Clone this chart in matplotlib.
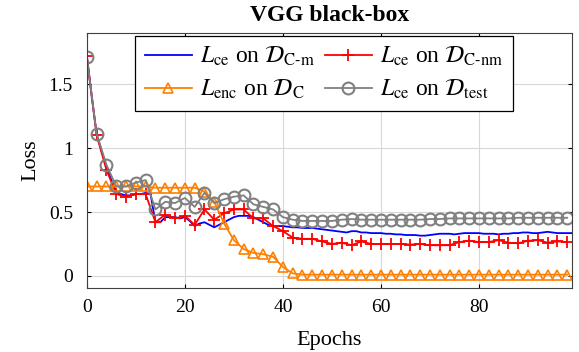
import matplotlib.pyplot as plt

plt.rcParams['font.family'] = ['Liberation Serif', 'DejaVu Serif']
plt.rcParams['mathtext.fontset'] = 'stix'

# every epoch for the C-m curve, every second epoch for the others
epochs_all = list(range(100))
epochs_even = list(range(0, 100, 2))

loss_cm = [1.72, 1.40, 1.11, 0.98, 0.85, 0.75, 0.66, 0.64, 0.63, 0.63,
           0.64, 0.64, 0.65, 0.64, 0.42, 0.42, 0.46, 0.46, 0.46, 0.45,
           0.46, 0.43, 0.39, 0.41, 0.42, 0.40, 0.38, 0.40, 0.42, 0.44,
           0.46, 0.47, 0.47, 0.47, 0.46, 0.44, 0.42, 0.40, 0.39, 0.39,
           0.39, 0.385, 0.38, 0.38, 0.375, 0.375, 0.375, 0.37, 0.365, 0.36,
           0.355, 0.35, 0.345, 0.34, 0.35, 0.35, 0.34, 0.34, 0.335, 0.335,
           0.335, 0.33, 0.33, 0.325, 0.325, 0.32, 0.32, 0.32, 0.315, 0.315,
           0.32, 0.325, 0.33, 0.33, 0.33, 0.325, 0.33, 0.335, 0.335, 0.335,
           0.335, 0.33, 0.33, 0.33, 0.325, 0.33, 0.33, 0.335, 0.335, 0.34,
           0.34, 0.335, 0.335, 0.34, 0.345, 0.34, 0.335, 0.335, 0.335, 0.335]

loss_cnm = [1.72, 1.10, 0.83, 0.64, 0.62, 0.64, 0.64, 0.42, 0.48, 0.45,
            0.47, 0.40, 0.52, 0.44, 0.49, 0.52, 0.52, 0.45, 0.45, 0.39,
            0.35, 0.30, 0.29, 0.29, 0.27, 0.25, 0.26, 0.24, 0.27, 0.25,
            0.25, 0.25, 0.25, 0.245, 0.25, 0.24, 0.24, 0.24, 0.265, 0.275,
            0.265, 0.265, 0.28, 0.26, 0.255, 0.275, 0.28, 0.26, 0.27, 0.265]

loss_enc = [0.70, 0.70, 0.70, 0.70, 0.70, 0.70, 0.70, 0.69, 0.69, 0.69,
            0.69, 0.69, 0.66, 0.58, 0.41, 0.28, 0.21, 0.18, 0.17, 0.15,
            0.07, 0.02, 0.01, 0.01, 0.01, 0.01, 0.01, 0.01, 0.01, 0.01,
            0.01, 0.01, 0.01, 0.01, 0.01, 0.01, 0.01, 0.01, 0.01, 0.01,
            0.01, 0.01, 0.01, 0.01, 0.01, 0.01, 0.01, 0.01, 0.01, 0.01]

loss_test = [1.71, 1.11, 0.87, 0.70, 0.70, 0.73, 0.75, 0.52, 0.58, 0.57,
             0.61, 0.54, 0.65, 0.57, 0.60, 0.62, 0.63, 0.56, 0.54, 0.52,
             0.46, 0.44, 0.43, 0.43, 0.43, 0.43, 0.44, 0.445, 0.44, 0.44,
             0.44, 0.44, 0.44, 0.44, 0.44, 0.445, 0.445, 0.45, 0.45, 0.45,
             0.45, 0.45, 0.45, 0.45, 0.455, 0.455, 0.455, 0.455, 0.455, 0.455]

fig = plt.figure(figsize=(5.79, 3.52), dpi=100)
ax = fig.add_axes([0.150, 0.182, 0.838, 0.724])

h1, = ax.plot(epochs_all, loss_cm, color='#0000ff', lw=1.3,
              label=r'$L_{\mathrm{ce}}$ on $\mathcal{D}_{\text{C-m}}$')
h2, = ax.plot(epochs_even, loss_cnm, color='#ff0000', lw=1.3, marker='+',
              ms=8, mew=1.3,
              label=r'$L_{\mathrm{ce}}$ on $\mathcal{D}_{\text{C-nm}}$')
h3, = ax.plot(epochs_even, loss_enc, color='#ff8000', lw=1.3, marker='^',
              ms=7, mew=1.2, mfc='none',
              label=r'$L_{\mathrm{enc}}$ on $\mathcal{D}_{\mathrm{C}}$')
h4, = ax.plot(epochs_even, loss_test, color='#808080', lw=1.3, marker='o',
              ms=8.5, mew=1.5, mfc='none',
              label=r'$L_{\mathrm{ce}}$ on $\mathcal{D}_{\mathrm{test}}$')

ax.set_xlim(0, 99)
ax.set_ylim(-0.094, 1.90)
ax.set_xticks([0, 20, 40, 60, 80])
ax.set_yticks([0, 0.5, 1, 1.5])
ax.set_yticklabels(['0', '0.5', '1', '1.5'])
ax.grid(True, color='#d8d8d8', lw=0.8)
ax.set_axisbelow(True)
ax.tick_params(direction='in', length=3, labelsize=14, top=True, right=True)
ax.tick_params(axis='x', pad=8)
ax.tick_params(axis='y', pad=10)
for s in ax.spines.values():
    s.set_color('#404040')

ax.set_xlabel('Epochs', fontsize=16, labelpad=11)
ax.set_ylabel('Loss', fontsize=16, labelpad=6)
ax.set_title('VGG black-box', fontsize=17, fontweight='bold', pad=9)

leg = ax.legend(handles=[h1, h3, h2, h4], ncol=2, loc='upper center',
                bbox_to_anchor=(0.489, 0.99), fontsize=17, frameon=True,
                fancybox=False, framealpha=1, edgecolor='black',
                borderpad=0.4, borderaxespad=0.0, handlelength=2.0,
                columnspacing=0.4, labelspacing=0.4, handletextpad=0.35)
leg.get_frame().set_linewidth(0.9)

fig.savefig('out.png', dpi=100)
